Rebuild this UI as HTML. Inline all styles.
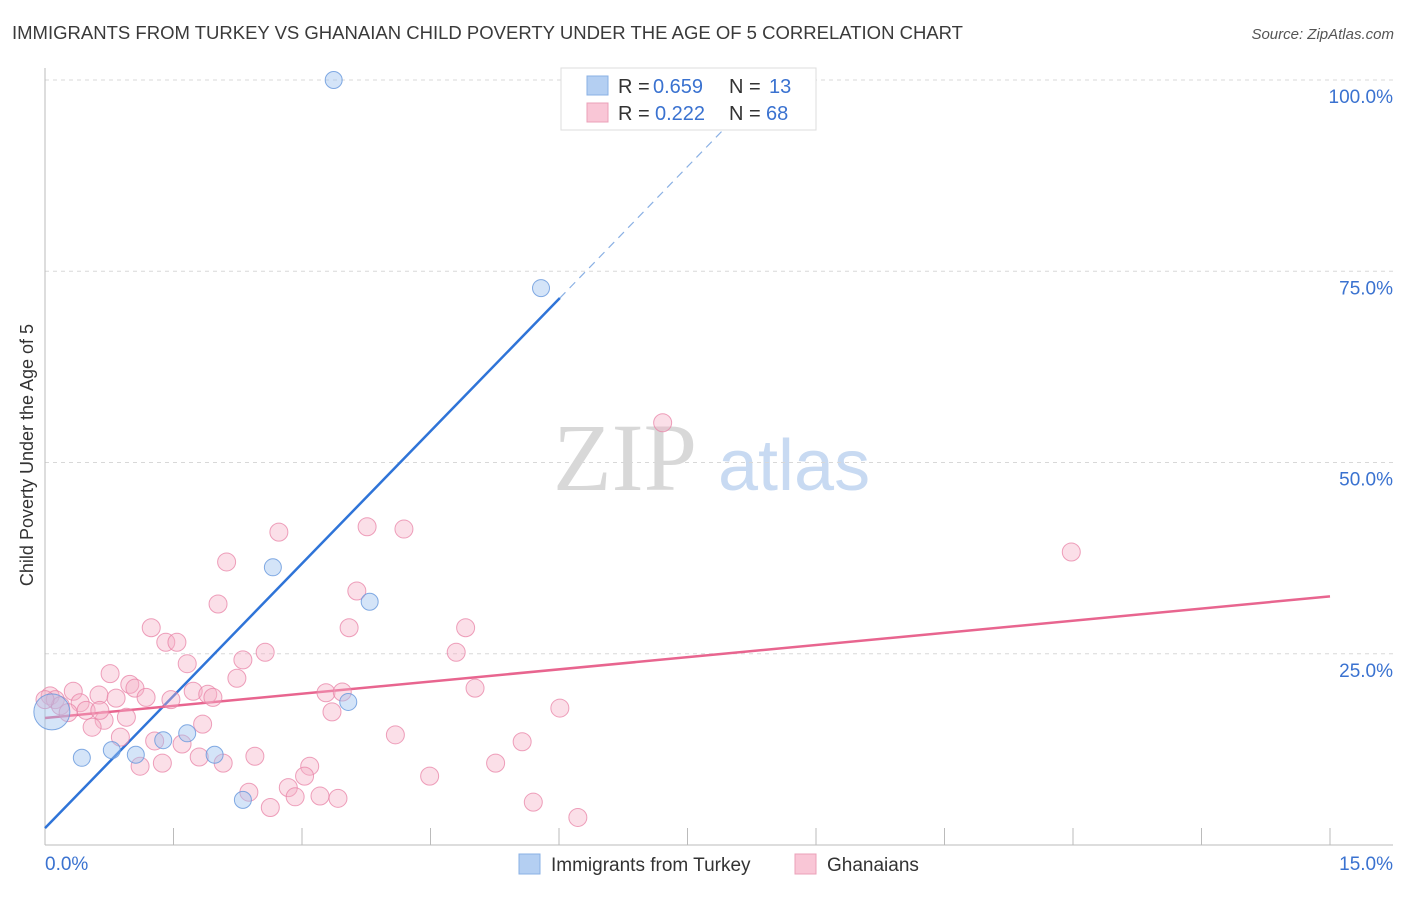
<!DOCTYPE html>
<html><head><meta charset="utf-8"><style>
body{margin:0;background:#fff;font-family:"Liberation Sans",sans-serif;}
</style></head><body>
<svg id="chart" width="1406" height="892" xmlns="http://www.w3.org/2000/svg" font-family="Liberation Sans, sans-serif">
<text x="12" y="39" font-size="18" fill="#3a3a3a" textLength="951" lengthAdjust="spacingAndGlyphs">IMMIGRANTS FROM TURKEY VS GHANAIAN CHILD POVERTY UNDER THE AGE OF 5 CORRELATION CHART</text>
<text x="1394" y="39" font-size="15" fill="#555" text-anchor="end" font-style="italic">Source: ZipAtlas.com</text>
<g>
<text x="553" y="490" font-size="96" fill="#d8d8d8" style="font-family:'Liberation Serif',serif">ZIP</text>
<text x="718" y="490" font-size="72" fill="#c8daf2">atlas</text>
</g>
<g id="grid"></g>
<g id="axes"></g>
<g id="lines"></g>
<g id="points"></g>
<text transform="translate(33,455) rotate(-90)" font-size="18" fill="#333" text-anchor="middle">Child Poverty Under the Age of 5</text>
<g>
<rect x="561" y="68" width="255" height="62" fill="#fff" stroke="#ddd"/>
<rect x="587" y="76" width="21" height="19" fill="#b4cff2" stroke="#8ab0e4"/>
<text x="618" y="93" font-size="20" fill="#333">R =</text>
<text x="653" y="93" font-size="20" fill="#3a72d0">0.659</text>
<text x="729" y="93" font-size="20" fill="#333">N =</text>
<text x="769" y="93" font-size="20" fill="#3a72d0">13</text>
<rect x="587" y="103" width="21" height="19" fill="#f9c6d6" stroke="#eba0b8"/>
<text x="618" y="120" font-size="20" fill="#333">R =</text>
<text x="655" y="120" font-size="20" fill="#3a72d0">0.222</text>
<text x="729" y="120" font-size="20" fill="#333">N =</text>
<text x="766" y="120" font-size="20" fill="#3a72d0">68</text>
</g>
<g>
<rect x="519" y="854" width="21" height="20" fill="#b4cff2" stroke="#8ab0e4"/>
<text x="551" y="871" font-size="19" fill="#333">Immigrants from Turkey</text>
<rect x="795" y="854" width="21" height="20" fill="#f9c6d6" stroke="#eba0b8"/>
<text x="827" y="871" font-size="19" fill="#333">Ghanaians</text>
</g>
</svg>
<script>
const xTicks=[1.5,3,4.5,6,7.5,9,10.5,12,13.5,15];
const yTicks=[25,50,75,100];
const yTickLabels=["25.0%","50.0%","75.0%","100.0%"];
const xEndLabels=["0.0%","15.0%"];
const turkeyX=[3.37,5.79,2.66,3.79,3.54,0.43,0.78,1.06,1.38,1.66,1.98,2.31,0.08];
const turkeyY=[100,72.8,36.3,31.8,18.7,11.4,12.4,11.8,13.7,14.6,11.8,5.9,17.4];
const turkeyR=[8.5,8.5,8.5,8.5,8.5,8.5,8.5,8.5,8.5,8.5,8.5,8.5,18];
const ghanaX=[7.21,11.98,2.73,3.76,4.19,2.12,3.64,2.02,1.24,3.55,4.91,1.41,1.54,2.57,4.80,2.31,1.66,0.76,2.24,0.99,1.05,5.02,3.28,3.47,1.73,1.90,1.96,0.63,0.83,1.18,1.47,0.33,0.06,0.12,0.18,0.41,0.48,0.27,6.01,3.35,0.95,0.69,1.84,0.55,0.88,1.28,1.60,4.09,5.57,2.45,1.80,2.08,1.11,1.37,5.26,3.09,3.03,4.49,2.84,2.38,2.92,3.21,3.42,5.70,2.63,6.22,0.0,0.64];
const ghanaY=[55.2,38.3,40.9,41.6,41.3,37.0,33.2,31.5,28.4,28.4,28.4,26.5,26.5,25.2,25.2,24.2,23.7,22.4,21.8,21.0,20.5,20.5,19.9,20.0,20.1,19.7,19.3,19.6,19.2,19.3,19.0,20.1,19.5,19.0,18.2,18.6,17.6,17.3,17.9,17.4,16.7,16.3,15.8,15.4,14.1,13.6,13.2,14.4,13.5,11.6,11.5,10.7,10.3,10.7,10.7,10.3,9.0,9.0,7.5,6.9,6.3,6.4,6.1,5.6,4.9,3.6,19.0,17.6];
const turkeyTrend=[0,2.2,6.01,71.5,8.3,97.9];
const ghanaTrend=[0,16.6,15,32.5];
const NS="http://www.w3.org/2000/svg";
const X0=45,X1=1330,Y0=845,Y1=80;
function sx(v){return X0+v/15*(X1-X0);}
function sy(v){return Y0-v/100*(Y0-Y1);}
function mk(tag,attrs,parent){const e=document.createElementNS(NS,tag);for(const k in attrs)e.setAttribute(k,attrs[k]);document.getElementById(parent).appendChild(e);return e;}
yTicks.forEach((t,i)=>{
 const g=mk('line',{x1:X0,x2:1393,y1:sy(t),y2:sy(t),stroke:'#d8d8d8','stroke-dasharray':'4 4'},'grid');
 
 
 const l=mk('text',{x:1393,y:sy(t)+23,'font-size':19,fill:'#3a72d0','text-anchor':'end'},'axes');
 l.textContent=yTickLabels[i];
 
 
});
let ax=mk('line',{x1:X0,x2:X0,y1:68,y2:Y0,stroke:'#bbb'},'axes');


ax=mk('line',{x1:X0,x2:1393,y1:Y0,y2:Y0,stroke:'#bbb'},'axes');


xTicks.forEach(t=>{
 const e=mk('line',{x1:sx(t),x2:sx(t),y1:Y0-17,y2:Y0,stroke:'#bbb'},'axes');
 
 
});
let xl=mk('text',{x:45,y:870,'font-size':19,fill:'#3a72d0'},'axes');xl.textContent=xEndLabels[0];


xl=mk('text',{x:1393,y:870,'font-size':19,fill:'#3a72d0','text-anchor':'end'},'axes');xl.textContent=xEndLabels[1];


let ln=mk('line',{x1:sx(turkeyTrend[0]),y1:sy(turkeyTrend[1]),x2:sx(turkeyTrend[2]),y2:sy(turkeyTrend[3]),stroke:'#2f74d8','stroke-width':2.5},'lines');


ln=mk('line',{x1:sx(turkeyTrend[2]),y1:sy(turkeyTrend[3]),x2:sx(turkeyTrend[4]),y2:sy(turkeyTrend[5]),stroke:'#8ab0e4','stroke-width':1.2,'stroke-dasharray':'8 6'},'lines');


ln=mk('line',{x1:sx(ghanaTrend[0]),y1:sy(ghanaTrend[1]),x2:sx(ghanaTrend[2]),y2:sy(ghanaTrend[3]),stroke:'#e8658f','stroke-width':2.5},'lines');


ghanaX.forEach((v,i)=>{
 const c=mk('circle',{cx:sx(v),cy:sy(ghanaY[i]),r:9,fill:'rgba(246,176,198,0.4)',stroke:'rgba(232,130,165,0.75)','stroke-width':1},'points');
 
 
});
turkeyX.forEach((v,i)=>{
 const c=mk('circle',{cx:sx(v),cy:sy(turkeyY[i]),r:turkeyR[i],fill:'rgba(160,196,240,0.45)',stroke:'rgba(100,150,220,0.8)','stroke-width':1},'points');
 
 
});
</script>
</body></html>
